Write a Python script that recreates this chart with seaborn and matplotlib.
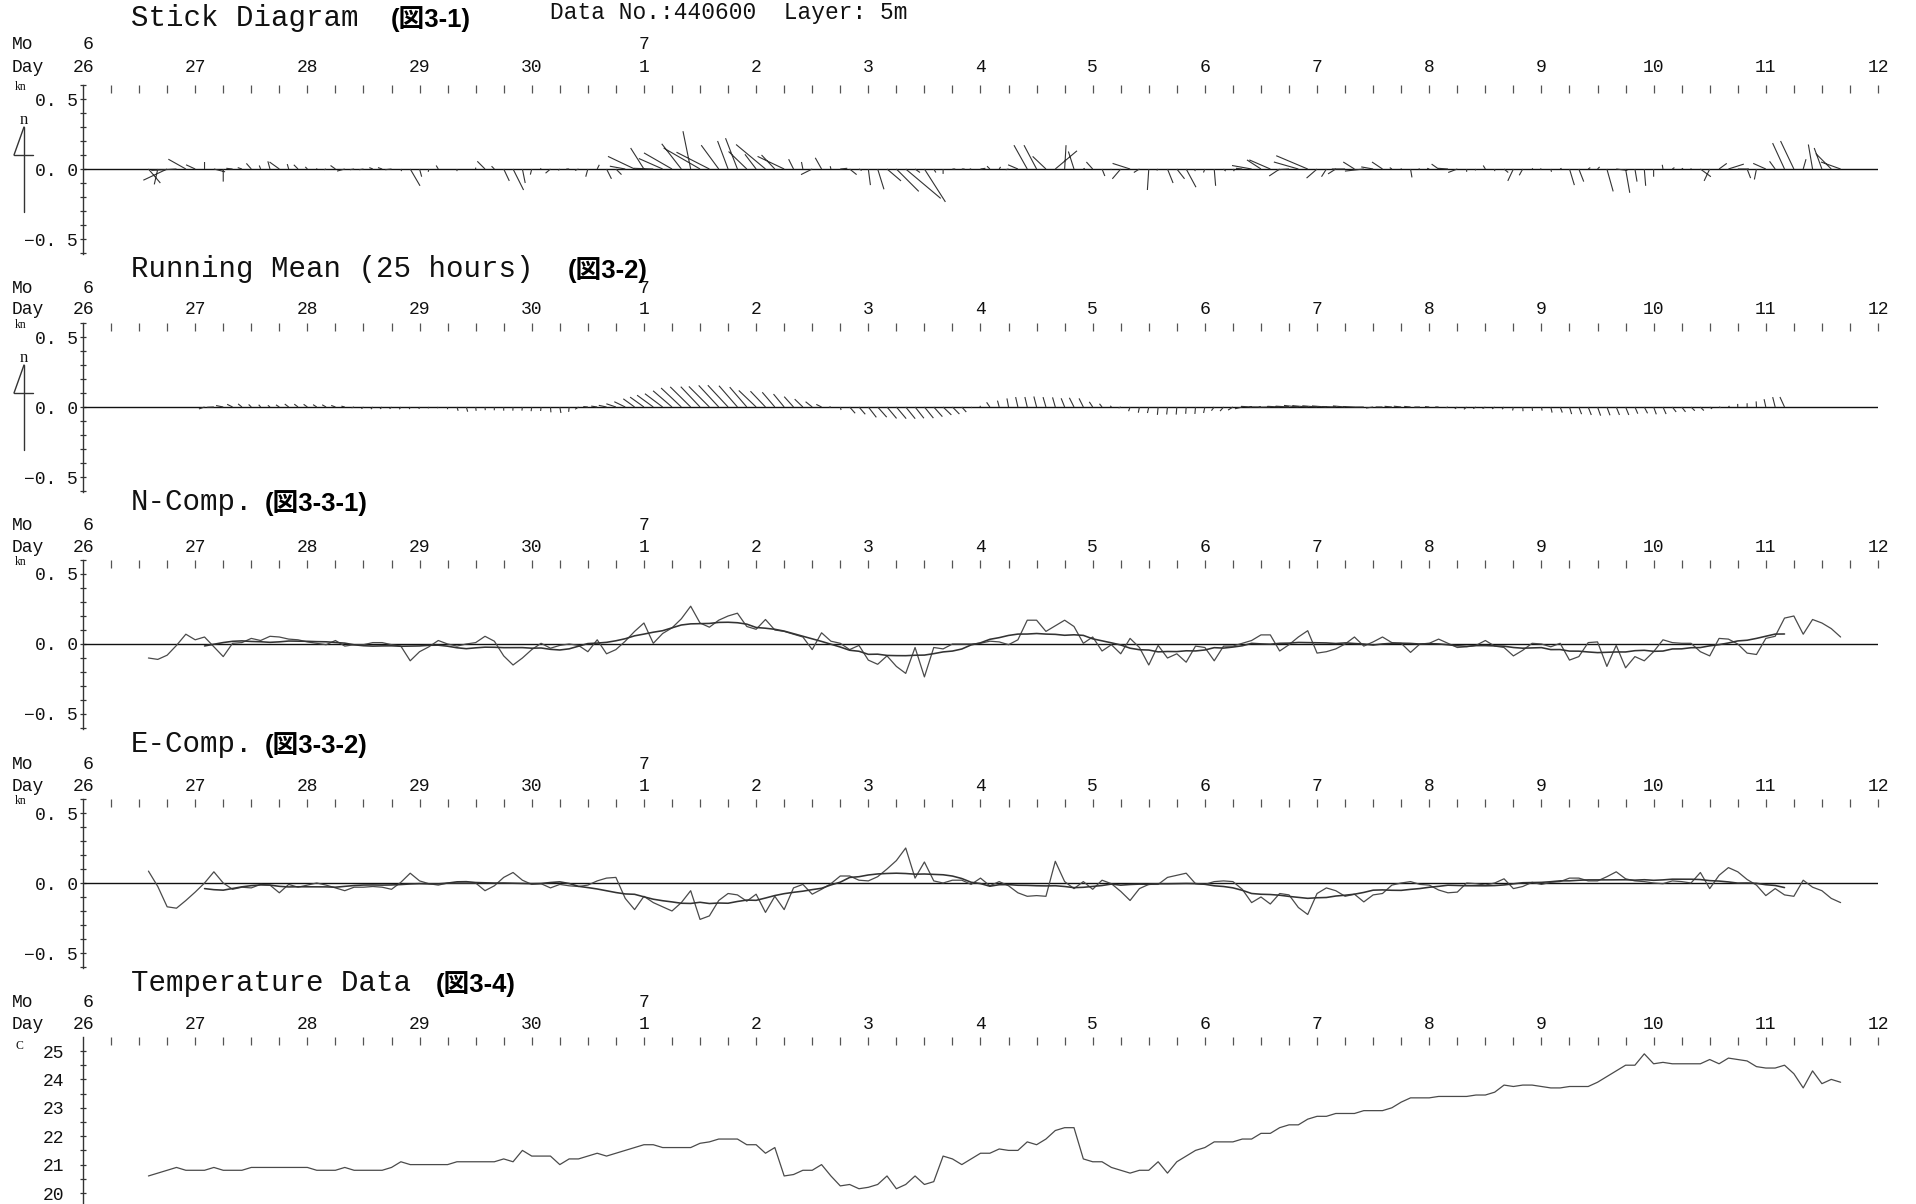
import numpy as np
import pandas as pd
import matplotlib
matplotlib.use("Agg")
import matplotlib.pyplot as plt
import matplotlib.transforms as mtransforms
from matplotlib.lines import Line2D
from matplotlib.ticker import FixedLocator, MultipleLocator, FuncFormatter
import seaborn as sns

# ---------------- data (2-hourly, from 26 June 14:00) ----------------
start_day = 14 / 24          # days after 26 June 00:00
step_days = 2 / 24
n_comp = [
    -0.10, -0.11, -0.08, -0.01, 0.07, 0.03, 0.05, -0.02, -0.09, 0.005, 0.01, 0.04,
    0.025, 0.055, 0.05, 0.035, 0.03, 0.015, 0.005, -0.005, 0.025, -0.015, -0.005, -0.005,
    0.01, 0.01, -0.005, -0.015, -0.12, -0.055, -0.02, 0.025, 0.0, -0.015, 0.0, 0.01,
    0.055, 0.02, -0.085, -0.15, -0.10, -0.04, 0.005, -0.03, -0.01, 0.0, -0.01, -0.055,
    0.03, -0.07, -0.04, 0.02, 0.09, 0.15, 0.005, 0.075, 0.115, 0.18, 0.27, 0.15,
    0.12, 0.17, 0.20, 0.22, 0.125, 0.105, 0.175, 0.10, 0.09, 0.07, 0.05, -0.04,
    0.08, 0.02, 0.005, -0.04, -0.01, -0.115, -0.145, -0.085, -0.16, -0.21, -0.025, -0.235,
    -0.025, -0.035, 0.0, 0.0, 0.0, 0.005, 0.02, 0.015, -0.005, 0.03, 0.17, 0.17,
    0.09, 0.13, 0.17, 0.125, 0.005, 0.05, -0.05, -0.005, -0.07, 0.04, -0.025, -0.15,
    -0.01, -0.10, -0.07, -0.13, -0.015, -0.025, -0.12, -0.015, -0.015, 0.005, 0.025, 0.065,
    0.065, -0.05, -0.005, 0.05, 0.095, -0.065, -0.055, -0.035, 0.0, 0.05, -0.015, 0.015,
    0.05, 0.01, 0.005, -0.06, 0.0, 0.005, 0.035, 0.005, -0.025, -0.02, -0.01, 0.025,
    -0.015, -0.025, -0.085, -0.045, 0.005, 0.0, -0.02, 0.005, -0.115, -0.09, 0.01, 0.015,
    -0.16, -0.01, -0.17, -0.09, -0.12, -0.055, 0.03, 0.01, 0.005, 0.005, -0.055, -0.085,
    0.04, 0.035, 0.0, -0.065, -0.075, 0.04, 0.055, 0.185, 0.20, 0.07, 0.175, 0.15,
    0.11, 0.05,
]
e_comp = [
    0.085, -0.025, -0.17, -0.18, -0.125, -0.065, 0.0, 0.08, 0.0, -0.045, -0.03, -0.035,
    -0.01, -0.015, -0.07, -0.01, -0.03, -0.015, 0.0, -0.015, -0.035, -0.055, -0.03, -0.03,
    -0.025, -0.03, -0.045, 0.005, 0.07, 0.015, -0.005, -0.015, 0.0, 0.0, 0.0, 0.0,
    -0.055, -0.02, 0.04, 0.075, 0.02, -0.01, -0.005, -0.035, -0.01, -0.02, -0.025, -0.015,
    0.015, 0.035, 0.04, -0.11, -0.19, -0.095, -0.14, -0.17, -0.20, -0.14, -0.055, -0.26,
    -0.235, -0.125, -0.075, -0.085, -0.13, -0.08, -0.21, -0.095, -0.19, -0.035, -0.01, -0.08,
    -0.045, -0.005, 0.05, 0.05, 0.02, 0.015, 0.045, 0.10, 0.16, 0.25, 0.035, 0.15,
    0.015, 0.0, 0.02, 0.02, -0.01, 0.035, -0.02, 0.01, -0.02, -0.07, -0.095, -0.09,
    -0.095, 0.155, 0.01, -0.04, 0.01, -0.045, 0.02, -0.005, -0.06, -0.125, -0.04, -0.01,
    -0.01, 0.04, 0.055, 0.07, -0.005, -0.01, 0.01, 0.015, 0.01, -0.045, -0.14, -0.10,
    -0.15, -0.075, -0.085, -0.175, -0.225, -0.075, -0.035, -0.055, -0.095, -0.08, -0.135, -0.085,
    -0.075, -0.015, 0.0, 0.01, -0.01, -0.015, -0.05, -0.07, -0.065, 0.0, -0.005, -0.015,
    0.0, 0.03, -0.04, -0.025, 0.005, -0.01, 0.005, 0.01, 0.035, 0.035, 0.015, 0.015,
    0.045, 0.08, 0.03, 0.015, 0.01, 0.0, -0.005, 0.015, 0.01, 0.0, 0.075, -0.04,
    0.055, 0.11, 0.08, 0.025, -0.015, -0.09, -0.04, -0.085, -0.095, 0.02, -0.03, -0.055,
    -0.11, -0.14,
]
temperature = [
    20.6, 20.7, 20.8, 20.9, 20.8, 20.8, 20.8, 20.9, 20.8, 20.8, 20.8, 20.9,
    20.9, 20.9, 20.9, 20.9, 20.9, 20.9, 20.8, 20.8, 20.8, 20.9, 20.8, 20.8,
    20.8, 20.8, 20.9, 21.1, 21.0, 21.0, 21.0, 21.0, 21.0, 21.1, 21.1, 21.1,
    21.1, 21.1, 21.2, 21.1, 21.5, 21.3, 21.3, 21.3, 21.0, 21.2, 21.2, 21.3,
    21.4, 21.3, 21.4, 21.5, 21.6, 21.7, 21.7, 21.6, 21.6, 21.6, 21.6, 21.75,
    21.8, 21.9, 21.9, 21.9, 21.7, 21.7, 21.4, 21.6, 20.6, 20.65, 20.8, 20.8,
    21.0, 20.6, 20.25, 20.3, 20.15, 20.2, 20.3, 20.6, 20.15, 20.3, 20.6, 20.3,
    20.4, 21.3, 21.2, 21.0, 21.2, 21.4, 21.4, 21.55, 21.5, 21.5, 21.8, 21.7,
    21.9, 22.2, 22.3, 22.3, 21.2, 21.1, 21.1, 20.9, 20.8, 20.7, 20.8, 20.8,
    21.1, 20.7, 21.1, 21.3, 21.5, 21.6, 21.8, 21.8, 21.8, 21.9, 21.9, 22.1,
    22.1, 22.3, 22.4, 22.4, 22.6, 22.7, 22.7, 22.8, 22.8, 22.8, 22.9, 22.9,
    22.9, 23.0, 23.2, 23.35, 23.35, 23.35, 23.4, 23.4, 23.4, 23.4, 23.45, 23.45,
    23.55, 23.8, 23.75, 23.8, 23.8, 23.75, 23.7, 23.7, 23.75, 23.75, 23.75, 23.9,
    24.1, 24.3, 24.5, 24.5, 24.9, 24.55, 24.6, 24.55, 24.55, 24.55, 24.55, 24.7,
    24.55, 24.75, 24.7, 24.65, 24.45, 24.4, 24.4, 24.5, 24.2, 23.7, 24.3, 23.85,
    24.0, 23.9,
]
day_labels = ["26", "27", "28", "29", "30", "1", "2", "3", "4", "5", "6", "7", "8", "9", "10", "11", "12"]
month_labels = ["6", "7"]
month_day_index = [0, 5]
titles = ["Stick Diagram", "Running Mean (25 hours)", "N-Comp.", "E-Comp.", "Temperature Data"]
fig_tags = ["(図3-1)", "(図3-2)", "(図3-3-1)", "(図3-3-2)", "(図3-4)"]
header = "Data No.:440600  Layer: 5m"
window_points = 13   # 25-hour running mean on 2-hourly data

t_days = start_day + step_days * np.arange(len(n_comp))
df = pd.DataFrame({"t": t_days, "N": n_comp, "E": e_comp, "T": temperature})
df["Nm"] = df["N"].rolling(window_points, center=True).mean()
df["Em"] = df["E"].rolling(window_points, center=True).mean()

# ---------------- figure ----------------
sns.set_theme(style="white")
plt.rcParams["font.family"] = ["Liberation Mono", "DejaVu Sans Mono"]
plt.rcParams["axes.unicode_minus"] = True

W, H = 1916, 1204
fig = plt.figure(figsize=(W / 100, H / 100), dpi=100, facecolor="white")

X0, X1 = 83, 1878
NDAYS = 16
INK = "#111111"
LINE = "#4a4a4a"
MEAN = "#333333"
TK = 8 / (100 / 72)   # 8 px in points


def fx(x):
    return x / W


def fy(y):
    return 1 - y / H


def make_ax(top, bottom, ylim):
    ax = fig.add_axes([fx(X0), fy(bottom), (X1 - X0) / W, (bottom - top) / H])
    ax.set_xlim(0, NDAYS)
    ax.set_ylim(*ylim)
    ax.set_facecolor("none")
    for s in ["top", "right", "bottom"]:
        ax.spines[s].set_visible(False)
    ax.spines["left"].set_color("#333333")
    ax.spines["left"].set_linewidth(1.0)
    ax.xaxis.set_ticks_position("top")
    ax.set_xticks(np.arange(1, NDAYS * 4 + 1) * 0.25)
    ax.tick_params(axis="x", which="both", direction="in", length=TK, width=0.9,
                   color="#555555", top=True, bottom=False, labeltop=False, labelbottom=False)
    ax.grid(False)
    return ax


def kn_fmt(v, p):
    s = f"{abs(v):.1f}".replace(".", ". ")
    return ("\u2212" + s) if v < -1e-9 else s


def style_kn(ax):
    ax.yaxis.set_major_locator(FixedLocator([-0.5, 0.0, 0.5]))
    ax.yaxis.set_minor_locator(MultipleLocator(0.1))
    ax.yaxis.set_major_formatter(FuncFormatter(kn_fmt))
    ax.tick_params(axis="y", which="both", direction="inout", length=5, width=0.9,
                   color="#333333", left=True, labelsize=13, labelcolor=INK, pad=1)
    ax.axhline(0, color="#111111", lw=1.0, zorder=1)


def axis_header(ax, mo_y, day_y, unit, unit_y):
    trans = mtransforms.blended_transform_factory(ax.transData, fig.transFigure)
    px_per_day = (X1 - X0) / NDAYS
    for i, lbl in enumerate(day_labels):
        ax.text(i, fy(day_y), lbl, transform=trans, ha="center", va="baseline",
                fontsize=13, color=INK, clip_on=False)
    for lbl, di in zip(month_labels, month_day_index):
        dl = day_labels[di]
        off = len(dl) * 5.4 / px_per_day
        ax.text(di + off, fy(mo_y), lbl, transform=trans, ha="right", va="baseline",
                fontsize=13, color=INK, clip_on=False)
    fig.text(fx(12), fy(mo_y), "Mo", ha="left", va="baseline", fontsize=13, color=INK)
    fig.text(fx(12), fy(day_y), "Day", ha="left", va="baseline", fontsize=13, color=INK)
    fig.text(fx(15), fy(unit_y), unit, ha="left", va="baseline", fontsize=8.5, color=INK,
             family=["Liberation Serif", "DejaVu Serif"])


def north_arrow(dy):
    kw = dict(color="#333333", lw=1.0, transform=fig.transFigure)
    fig.add_artist(Line2D([fx(24), fx(24)], [fy(127 + dy), fy(212 + dy)], **kw))
    fig.add_artist(Line2D([fx(24), fx(14)], [fy(127 + dy), fy(155 + dy)], **kw))
    fig.add_artist(Line2D([fx(14), fx(33)], [fy(155 + dy), fy(155 + dy)], **kw))
    fig.text(fx(24), fy(124 + dy), "n", ha="center", va="baseline", fontsize=12, color=INK,
             family=["Liberation Serif", "DejaVu Serif"])


def sticks(ax, t, north, east, top, bottom, ylim):
    px_per_kn = (bottom - top) / (ylim[1] - ylim[0])
    px_per_day = (X1 - X0) / NDAYS
    c = px_per_kn / px_per_day
    xs, ys = [], []
    for ti, ni, ei in zip(t, north, east):
        if np.isnan(ni) or np.isnan(ei):
            continue
        xs += [ti, ti + ei * c, np.nan]
        ys += [0.0, ni, np.nan]
    ax.plot(xs, ys, color="#333333", lw=0.8, solid_capstyle="butt")


zeros = [169, 407, 644, 883]
KN_LIM = (-0.61, 0.60)
hdr_rows = [(49, 72), (293, 314), (530, 552), (769, 791)]
title_base = [26, 277, 510, 752, 991]
tag_x = [391, 568, 265, 265, 436]

axes = []
for i, z in enumerate(zeros):
    top = z - KN_LIM[1] * 140
    bottom = z - KN_LIM[0] * 140
    ax = make_ax(top, bottom, KN_LIM)
    style_kn(ax)
    axis_header(ax, hdr_rows[i][0], hdr_rows[i][1], "kn", z - 79)
    axes.append((ax, top, bottom))

# Panel 1: stick diagram of raw current
ax, top, bottom = axes[0]
sticks(ax, df["t"], df["N"], df["E"], top, bottom, KN_LIM)
north_arrow(0)

# Panel 2: stick diagram of running mean
ax, top, bottom = axes[1]
sticks(ax, df["t"], df["Nm"], df["Em"], top, bottom, KN_LIM)
north_arrow(238)

# Panel 3: N component
ax = axes[2][0]
sns.lineplot(data=df, x="t", y="N", ax=ax, color=LINE, lw=0.9, estimator=None, sort=False)
sns.lineplot(data=df, x="t", y="Nm", ax=ax, color=MEAN, lw=1.15, estimator=None, sort=False)

# Panel 4: E component
ax = axes[3][0]
sns.lineplot(data=df, x="t", y="E", ax=ax, color=LINE, lw=0.9, estimator=None, sort=False)
sns.lineplot(data=df, x="t", y="Em", ax=ax, color=MEAN, lw=1.15, estimator=None, sort=False)

for ax, _, _ in axes:
    ax.set_xlabel("")
    ax.set_ylabel("")
    ax.set_xlim(0, NDAYS)
    ax.set_ylim(*KN_LIM)

# Panel 5: temperature
T_LIM = (19.6, 25.49)
t_top = 1051 - (T_LIM[1] - 25) * 28.4
t_bot = 1051 + (25 - T_LIM[0]) * 28.4
axT = make_ax(t_top, t_bot, T_LIM)
axT.yaxis.set_major_locator(FixedLocator([20, 21, 22, 23, 24, 25]))
axT.yaxis.set_minor_locator(MultipleLocator(0.5))
axT.yaxis.set_major_formatter(FuncFormatter(lambda v, p: f"{v:.0f}"))
axT.tick_params(axis="y", which="both", direction="inout", length=5, width=0.9,
                color="#333333", left=True, labelsize=13, labelcolor=INK, pad=11)
sns.lineplot(data=df, x="t", y="T", ax=axT, color=LINE, lw=0.9, estimator=None, sort=False)
axT.set_xlabel("")
axT.set_ylabel("")
axT.set_xlim(0, NDAYS)
axT.set_ylim(*T_LIM)
axis_header(axT, 1007, 1029, "C", 1049)

# Titles
for i, (ttl, tag) in enumerate(zip(titles, fig_tags)):
    fig.text(fx(131), fy(title_base[i]), ttl, ha="left", va="baseline", fontsize=21, color=INK)
    fig.text(fx(tag_x[i]), fy(title_base[i] + 1), tag, ha="left", va="baseline", fontsize=18.5,
             color="#000000", family=["Liberation Sans", "Noto Sans CJK JP"], weight="bold")
fig.text(fx(550), fy(19), header, ha="left", va="baseline", fontsize=16.5, color=INK)

fig.savefig("out.png", dpi=100, facecolor="white")
